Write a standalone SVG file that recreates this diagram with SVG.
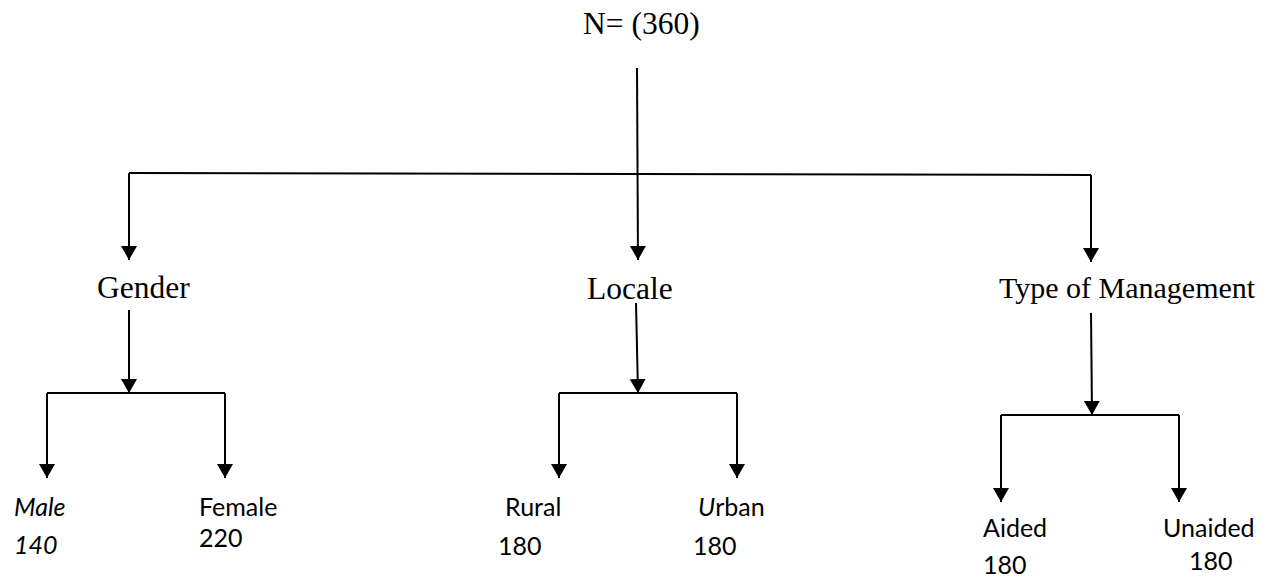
<svg xmlns="http://www.w3.org/2000/svg" width="1274" height="579" viewBox="0 0 1274 579">
  <style>
    .serif { font-family: "Liberation Serif", "Times New Roman", serif; font-size: 31.5px; fill: #000; }
    .serif.long { font-size: 30px; }
    .sans { font-family: Lato, "Open Sans", sans-serif; font-size: 25px; fill: #000; }
    .it { font-style: italic; }
    .wire { fill: none; stroke: #000; stroke-width: 2; }
  </style>
  <defs>
    <marker id="arrow" markerUnits="userSpaceOnUse" markerWidth="16" markerHeight="17" refX="14" refY="8" orient="auto">
      <path d="M0,0 L14,8 L0,16 Z" fill="#000"/>
    </marker>
  </defs>
  <rect width="1274" height="579" fill="#fff"/>

  <!-- connectors -->
  <g id="connectors" class="wire">
    <!-- root trunk and top bar -->
    <line x1="637" y1="68" x2="638" y2="260" marker-end="url(#arrow)"/>
    <line x1="129" y1="173" x2="1091" y2="175"/>
    <line x1="129" y1="173" x2="129" y2="260" marker-end="url(#arrow)"/>
    <line x1="1091" y1="175" x2="1091" y2="262" marker-end="url(#arrow)"/>

    <!-- Gender branch -->
    <line x1="129" y1="310" x2="129" y2="393" marker-end="url(#arrow)"/>
    <line x1="47" y1="393" x2="225" y2="393"/>
    <line x1="47" y1="393" x2="47" y2="478" marker-end="url(#arrow)"/>
    <line x1="225" y1="393" x2="225" y2="478" marker-end="url(#arrow)"/>

    <!-- Locale branch -->
    <line x1="636" y1="303" x2="638" y2="393" marker-end="url(#arrow)"/>
    <line x1="559" y1="393" x2="737" y2="393"/>
    <line x1="559" y1="393" x2="559" y2="478" marker-end="url(#arrow)"/>
    <line x1="737" y1="393" x2="737" y2="478" marker-end="url(#arrow)"/>

    <!-- Type of Management branch -->
    <line x1="1091" y1="313" x2="1092" y2="415" marker-end="url(#arrow)"/>
    <line x1="1001" y1="415" x2="1179" y2="415"/>
    <line x1="1001" y1="415" x2="1001" y2="502" marker-end="url(#arrow)"/>
    <line x1="1179" y1="415" x2="1179" y2="502" marker-end="url(#arrow)"/>
  </g>

  <!-- nodes -->
  <g id="root"><text class="serif" x="583" y="34">N= (360)</text></g>
  <g id="gender"><text class="serif" x="97" y="298">Gender</text></g>
  <g id="locale"><text class="serif" x="587" y="299">Locale</text></g>
  <g id="management"><text class="serif long" x="999" y="298">Type of Management</text></g>

  <g id="male">
    <text class="sans it" x="14" y="516">Male</text>
    <text class="sans it" x="14" y="554">140</text>
  </g>
  <g id="female">
    <text class="sans" x="199" y="516">Female</text>
    <text class="sans" x="199" y="547">220</text>
  </g>
  <g id="rural">
    <text class="sans" x="505" y="516">Rural</text>
    <text class="sans" x="498" y="555">180</text>
  </g>
  <g id="urban">
    <text class="sans" x="698" y="516"><tspan class="it">U</tspan>rban</text>
    <text class="sans" x="693" y="555">180</text>
  </g>
  <g id="aided">
    <text class="sans" x="983" y="537">Aided</text>
    <text class="sans" x="983" y="574">180</text>
  </g>
  <g id="unaided">
    <text class="sans" x="1163" y="537">Unaided</text>
    <text class="sans" x="1189" y="570">180</text>
  </g>
</svg>
